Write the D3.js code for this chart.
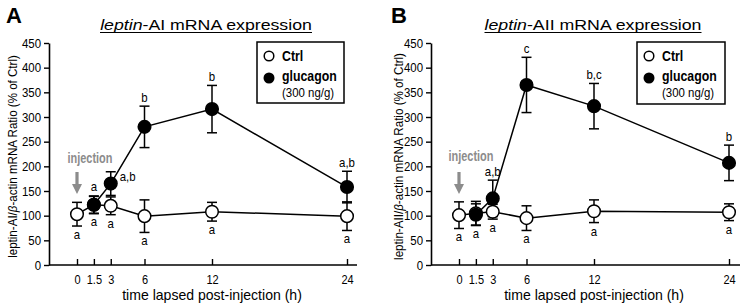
<!DOCTYPE html>
<html><head><meta charset="utf-8">
<script src="https://cdn.jsdelivr.net/npm/d3@7"></script>
<style>
html,body{margin:0;padding:0;background:#fff;}
svg{display:block;font-family:"Liberation Sans",Arial,Helvetica,sans-serif;}
</style></head>
<body>
<svg id="chart" width="743" height="304"></svg>
<script>
// ---------- data ----------
const times = [0, 1.5, 3, 6, 12, 24];
const xTickLabels = ["0", "1.5", "3", "6", "12", "24"];
const yTicks = [0, 50, 100, 150, 200, 250, 300, 350, 400, 450];

// Panel A: leptin-AI
const ctrlA = [103, 122, 120, 99, 108, 99];
const ctrlA_err = [24, 17, 18, 33, 19, 29];
const glucA = [null, 122, 165, 280, 316, 158];
const glucA_err = [null, 18, 24, 42, 48, 32];
const ctrlA_letters = ["a", "a", "a", "a", "a", "a"];
const glucA_letters = [null, "a", "a,b", "b", "b", "a,b"];
const glucA_letterPos = [null, "above", "right", "above", "above", "above"];

// Panel B: leptin-AII
const ctrlB = [101, 105, 108, 95, 109, 107];
const ctrlB_err = [27, 24, 15, 25, 23, 17];
const glucB = [null, 102, 135, 365, 322, 207];
const glucB_err = [null, 22, 37, 56, 46, 36];
const ctrlB_letters = ["a", "a", "a", "a", "a", "a"];
const glucB_letters = [null, null, "a,b", "c", "b,c", "b"];
const glucB_letterPos = [null, null, "above", "above", "above", "above"];

const legendLabels = ["Ctrl", "glucagon", "(300 ng/g)"];

// ---------- layout ----------
const svg = d3.select("#chart");
const Y0 = 265, Y1 = 43;
const y = d3.scaleLinear().domain([0, 450]).range([Y0, Y1]);
const SQ = 0.88; // horizontal squeeze of small text

function fit(sel, target) {
  const w = sel.node().getComputedTextLength();
  return target / w;
}

const panels = [
  { letter: "A", gene: "AI", ctrl: ctrlA, ctrlErr: ctrlA_err, gluc: glucA, glucErr: glucA_err,
    ctrlLetters: ctrlA_letters, glucLetters: glucA_letters, glucPos: glucA_letterPos,
    axisX: 49, xr: [77, 347], axisEnd: 357, yLabelX: 13, yLabelLen: 203,
    titleX: 206, titleW: 212, letterX: 6, xLabelX: 212, legend: { x: 257, y: 42, w: 87, h: 61 },
    injX: 90, injY: 163 },
  { letter: "B", gene: "AII", ctrl: ctrlB, ctrlErr: ctrlB_err, gluc: glucB, glucErr: glucB_err,
    ctrlLetters: ctrlB_letters, glucLetters: glucB_letters, glucPos: glucB_letterPos,
    axisX: 431, xr: [459, 729], axisEnd: 740, yLabelX: 399, yLabelLen: 207,
    titleX: 593, titleW: 217, letterX: 391, xLabelX: 594, legend: { x: 637, y: 42, w: 88, h: 62 },
    injX: 471, injY: 161 }
];

panels.forEach(p => {
  const g = svg.append("g");
  const x = d3.scaleLinear().domain([0, 24]).range(p.xr);

  // panel letter
  g.append("text").attr("x", p.letterX).attr("y", 23)
    .attr("font-size", 22).attr("font-weight", "bold").text(p.letter);

  // title
  const title = g.append("text").attr("x", 0).attr("y", 0)
    .attr("font-size", 15).attr("text-anchor", "middle");
  title.append("tspan").attr("font-style", "italic").text("leptin");
  title.append("tspan").text("-" + p.gene + " mRNA expression");
  const ts = fit(title, p.titleW);
  title.attr("transform", `translate(${p.titleX},30) scale(${ts},1)`);
  g.append("line").attr("x1", p.titleX - p.titleW / 2).attr("x2", p.titleX + p.titleW / 2)
    .attr("y1", 32.5).attr("y2", 32.5).attr("stroke", "#000").attr("stroke-width", 1);

  // y axis
  const yAxis = d3.axisLeft(y).tickValues(yTicks).tickSize(5).tickPadding(3).tickSizeOuter(0);
  const ya = g.append("g").attr("transform", `translate(${p.axisX},0)`).call(yAxis);
  ya.select(".domain").attr("stroke-width", 1.6);
  ya.selectAll(".tick line").attr("stroke-width", 1.4);
  ya.selectAll(".tick text").attr("font-size", 13).attr("fill", "#000")
    .attr("font-family", "'Liberation Sans',Arial,sans-serif")
    .attr("transform", `scale(${SQ},1)`)
    .attr("x", -8 / SQ);

  // x axis
  const xAxis = d3.axisBottom(x).tickValues(times).tickFormat((d, i) => xTickLabels[i])
    .tickSizeInner(-6).tickSizeOuter(0).tickPadding(14);
  const xa = g.append("g").attr("transform", `translate(0,${Y0})`).call(xAxis);
  xa.select(".domain").remove();
  xa.selectAll(".tick line").attr("stroke-width", 1.4);
  xa.selectAll(".tick text").attr("font-size", 12.5).attr("fill", "#000")
    .attr("dy", null).attr("y", 19)
    .attr("transform", `scale(${SQ},1)`);
  g.append("line").attr("x1", p.axisX).attr("x2", p.axisEnd).attr("y1", Y0).attr("y2", Y0)
    .attr("stroke", "#000").attr("stroke-width", 1.6);

  // x axis label
  const xl = g.append("text").attr("font-size", 14).attr("text-anchor", "middle")
    .text("time lapsed post-injection (h)");
  const xs = fit(xl, 180);
  xl.attr("transform", `translate(${p.xLabelX},300) scale(${xs},1)`);

  // y axis label
  const yl = g.append("text").attr("font-size", 13).attr("text-anchor", "middle");
  yl.append("tspan").text("leptin-" + p.gene + "/");
  yl.append("tspan").attr("font-style", "italic").text("β");
  yl.append("tspan").text("-actin mRNA Ratio (% of Ctrl)");
  const ys = fit(yl, p.yLabelLen);
  yl.attr("transform", `translate(${p.yLabelX + 4},156.5) rotate(-90) scale(${ys},1)`);

  // injection annotation
  const inj = g.append("text").attr("font-size", 14).attr("font-weight", "bold")
    .attr("fill", "#8c8c8c").attr("text-anchor", "middle").text("injection");
  const is = fit(inj, 45);
  inj.attr("transform", `translate(${p.injX},${p.injY}) scale(${is},1)`);
  const ax = x(0);
  g.append("path")
    .attr("d", `M${ax - 1.6},172 L${ax + 1.6},172 L${ax + 1.6},184 L${ax + 5},184 L${ax},194 L${ax - 5},184 L${ax - 1.6},184 Z`)
    .attr("fill", "#8c8c8c");

  // series drawing
  function drawSeries(vals, errs) {
    const pts = times.map((t, i) => ({ t, v: vals[i], e: errs[i] })).filter(d => d.v != null);
    const eb = g.append("g").attr("stroke", "#000").attr("stroke-width", 1.5);
    pts.forEach(d => {
      const xx = x(d.t);
      eb.append("line").attr("x1", xx).attr("x2", xx).attr("y1", y(d.v - d.e)).attr("y2", y(d.v + d.e));
      eb.append("line").attr("x1", xx - 5).attr("x2", xx + 5).attr("y1", y(d.v - d.e)).attr("y2", y(d.v - d.e));
      eb.append("line").attr("x1", xx - 5).attr("x2", xx + 5).attr("y1", y(d.v + d.e)).attr("y2", y(d.v + d.e));
    });
    g.append("path").datum(pts)
      .attr("d", d3.line().x(d => x(d.t)).y(d => y(d.v)))
      .attr("fill", "none").attr("stroke", "#000").attr("stroke-width", 1.5);
    return pts;
  }
  function drawDots(pts, filled) {
    g.append("g").selectAll("circle").data(pts).join("circle")
      .attr("cx", d => x(d.t)).attr("cy", d => y(d.v)).attr("r", 6.3)
      .attr("fill", filled ? "#000" : "#fff").attr("stroke", "#000").attr("stroke-width", 1.5);
  }
  const cp = drawSeries(p.ctrl, p.ctrlErr);
  const gp = drawSeries(p.gluc, p.glucErr);
  drawDots(cp, false);
  drawDots(gp, true);

  // significance letters
  function letter(txt, xx, yy, anchor) {
    g.append("text").attr("font-size", 13).attr("text-anchor", anchor).attr("fill", "#000")
      .attr("transform", `translate(${xx},${yy}) scale(${SQ},1)`).text(txt);
  }
  times.forEach((t, i) => {
    if (p.ctrlLetters[i]) letter(p.ctrlLetters[i], x(t), y(p.ctrl[i] - p.ctrlErr[i]) + 13, "middle");
    if (p.glucLetters[i]) {
      const v = p.gluc[i], e = p.glucErr[i];
      if (p.glucPos[i] === "right") letter(p.glucLetters[i], x(t) + 9, y(v) - 3, "start");
      else letter(p.glucLetters[i], x(t), y(v + e) - 4.5, "middle");
    }
  });

  // legend
  const L = p.legend;
  g.append("rect").attr("x", L.x).attr("y", L.y).attr("width", L.w).attr("height", L.h)
    .attr("fill", "#fff").attr("stroke", "#000").attr("stroke-width", 1.5);
  g.append("circle").attr("cx", L.x + 12).attr("cy", L.y + 14).attr("r", 4.8)
    .attr("fill", "#fff").attr("stroke", "#000").attr("stroke-width", 1.5);
  g.append("circle").attr("cx", L.x + 12).attr("cy", L.y + 36).attr("r", 5.5)
    .attr("fill", "#000");
  const lt = (txt, yy, bold, size) => g.append("text").attr("font-size", size)
    .attr("font-weight", bold ? "bold" : "normal")
    .attr("transform", `translate(${L.x + 25},${yy}) scale(${SQ},1)`).text(txt);
  lt(legendLabels[0], L.y + 19, true, 14);
  lt(legendLabels[1], L.y + 39, true, 14);
  lt(legendLabels[2], L.y + 55, false, 13);
});
</script>
</body></html>
